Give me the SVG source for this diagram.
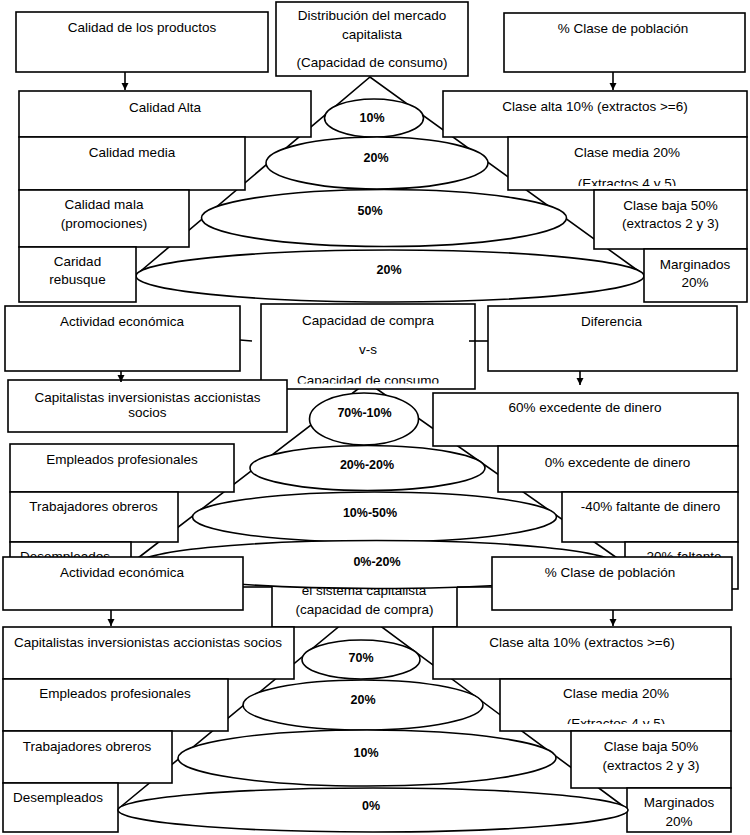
<svg xmlns="http://www.w3.org/2000/svg" width="750" height="835" viewBox="0 0 750 835">
<defs>
<style>
.b{fill:#fff;stroke:#000;stroke-width:1.6}
.e{fill:#fff;stroke:#000;stroke-width:1.6}
.l{fill:none;stroke:#000;stroke-width:1.6}
.t{font-family:"Liberation Sans",Arial,sans-serif;font-size:13.5px;fill:#000}
.c{text-anchor:middle}
.p{font-family:"Liberation Sans",Arial,sans-serif;font-size:12.5px;font-weight:bold;text-anchor:middle;fill:#000}
</style>
<marker id="ah" markerWidth="8" markerHeight="8" refX="7" refY="4" orient="auto" markerUnits="userSpaceOnUse"><path d="M0,0.5 L7,4 L0,7.5 Z" fill="#000"/></marker>
<clipPath id="k1"><rect x="508" y="137" width="239" height="49"/></clipPath>
<clipPath id="k2"><rect x="261" y="304" width="214" height="79.5"/></clipPath>
<clipPath id="k3"><rect x="500" y="679" width="231" height="45"/></clipPath>
</defs>

<g id="pyramid-1"><polyline class="l" points="136,275 370,77 644,275"/></g>

<g id="s1-ellipses">
<g id="e1-10"><ellipse class="e" cx="374" cy="118" rx="49.5" ry="19"/><text class="p" x="372" y="122">10%</text></g>
<g id="e1-20"><ellipse class="e" cx="377" cy="163" rx="111" ry="26"/><text class="p" x="376" y="162">20%</text></g>
<g id="e1-50"><ellipse class="e" cx="384" cy="218" rx="182.5" ry="28.5"/><text class="p" x="370" y="215">50%</text></g>
<g id="e1-20b"><ellipse class="e" cx="390" cy="276" rx="254" ry="26"/><text class="p" x="389" y="274">20%</text></g>
</g>

<g id="n-calidad-productos"><rect class="b" x="16" y="12" width="252" height="60"/><text class="t c" x="142" y="32">Calidad de los productos</text></g>
<g id="n-distribucion"><rect class="b" x="276" y="2" width="192" height="74"/><text class="t c" x="372" y="20">Distribución del mercado</text><text class="t c" x="372" y="39">capitalista</text><text class="t c" x="372" y="67">(Capacidad de consumo)</text></g>
<g id="n-clase-poblacion-1"><rect class="b" x="504" y="13" width="241" height="59"/><text class="t c" x="623" y="33">% Clase de población</text></g>
<g id="n-calidad-alta"><rect class="b" x="19" y="91" width="292" height="46"/><text class="t c" x="165" y="112">Calidad Alta</text></g>
<g id="n-clase-alta-1"><rect class="b" x="443" y="91" width="304" height="46"/><text class="t c" x="595" y="111">Clase alta 10% (extractos &gt;=6)</text></g>
<g id="n-calidad-media"><rect class="b" x="19" y="137" width="226" height="53"/><text class="t c" x="132" y="157">Calidad media</text></g>
<g id="n-clase-media-1"><rect class="b" x="508" y="137" width="239" height="53"/><text class="t c" x="627" y="157">Clase media 20%</text><text class="t c" x="627" y="187.5" clip-path="url(#k1)">(Extractos 4 y 5)</text></g>
<g id="n-calidad-mala"><rect class="b" x="19" y="190" width="170" height="57"/><text class="t c" x="104" y="209">Calidad mala</text><text class="t c" x="104" y="228">(promociones)</text></g>
<g id="n-clase-baja-1"><rect class="b" x="594" y="190" width="153" height="59"/><text class="t c" x="670.5" y="210">Clase baja 50%</text><text class="t c" x="670.5" y="228">(extractos 2 y 3)</text></g>
<g id="n-caridad"><rect class="b" x="19" y="247" width="117" height="55"/><text class="t c" x="77.5" y="266">Caridad</text><text class="t c" x="77.5" y="284">rebusque</text></g>
<g id="n-marginados-1"><rect class="b" x="644" y="249" width="103" height="53"/><text class="t c" x="695" y="269">Marginados</text><text class="t c" x="695" y="287">20%</text></g>

<g id="pyramid-2"><polyline class="l" points="138,558 367,382 617,558"/></g>
<g id="pyramid-3"><polyline class="l" points="118,809 359,610 627,809"/></g>

<g id="n-actividad-2"><rect class="b" x="5" y="306" width="235" height="65"/><text class="t c" x="122" y="326">Actividad económica</text></g>
<g id="n-capacidad"><rect class="b" x="261" y="304" width="214" height="85"/><text class="t c" x="368" y="324.5">Capacidad de compra</text><text class="t c" x="368" y="354">v-s</text><text class="t c" x="368" y="384.5" clip-path="url(#k2)">Capacidad de consumo</text></g>
<g id="n-diferencia"><rect class="b" x="488" y="306" width="249" height="65"/><text class="t c" x="611.5" y="326">Diferencia</text></g>
<g id="n-capitalistas-2"><rect class="b" x="8" y="380" width="279" height="52"/><text class="t c" x="147.5" y="402">Capitalistas inversionistas accionistas</text><text class="t c" x="147.5" y="417">socios</text></g>
<g id="n-excedente60"><rect class="b" x="433" y="393" width="305" height="53"/><text class="t c" x="585" y="412">60% excedente de dinero</text></g>
<g id="n-empleados-2"><rect class="b" x="10" y="444" width="224" height="48"/><text class="t c" x="122" y="464">Empleados profesionales</text></g>
<g id="n-excedente0"><rect class="b" x="498" y="446" width="240" height="46"/><text class="t c" x="617.5" y="467">0% excedente de dinero</text></g>
<g id="n-trabajadores-2"><rect class="b" x="10" y="492" width="168" height="50"/><text class="t c" x="93.5" y="511">Trabajadores obreros</text></g>
<g id="n-faltante40"><rect class="b" x="562" y="492" width="176" height="50"/><text class="t c" x="650.5" y="511">-40% faltante de dinero</text></g>
<g id="n-desempleados-2"><rect class="b" x="10" y="542" width="121" height="47"/><text class="t" x="20" y="561">Desempleados</text></g>
<g id="n-faltante20"><rect class="b" x="625" y="542" width="113" height="47"/><text class="t" x="642" y="561">-20% faltante</text></g>

<g id="n-sistema"><rect class="b" x="272" y="560" width="185" height="67"/><text class="t c" x="364" y="595">el sistema capitalista</text><text class="t c" x="364.5" y="614">(capacidad de compra)</text></g>

<g id="s2-ellipses">
<g id="e2-70"><ellipse class="e" cx="364" cy="419" rx="54.5" ry="26"/><text class="p" x="364.5" y="417">70%-10%</text></g>
<g id="e2-20"><ellipse class="e" cx="367.5" cy="468" rx="117.5" ry="22.5"/><text class="p" x="367" y="469">20%-20%</text></g>
<g id="e2-10"><ellipse class="e" cx="374.5" cy="517" rx="182" ry="25"/><text class="p" x="370" y="517">10%-50%</text></g>
<g id="e2-0"><ellipse class="e" cx="376.5" cy="564.5" rx="239" ry="24"/><text class="p" x="377" y="566">0%-20%</text></g>
</g>

<g id="n-actividad-3"><rect class="b" x="3" y="557" width="240" height="53"/><text class="t c" x="122" y="577">Actividad económica</text></g>
<g id="n-clase-poblacion-3"><rect class="b" x="492" y="557" width="240" height="53"/><text class="t c" x="610" y="577">% Clase de población</text></g>
<g id="n-capitalistas-3"><rect class="b" x="3" y="627" width="291" height="52"/><text class="t c" x="148" y="647">Capitalistas inversionistas accionistas socios</text></g>
<g id="n-clase-alta-3"><rect class="b" x="433" y="627" width="298" height="52"/><text class="t c" x="582" y="647">Clase alta 10% (extractos &gt;=6)</text></g>
<g id="n-empleados-3"><rect class="b" x="3" y="679" width="225" height="52"/><text class="t c" x="115" y="698">Empleados profesionales</text></g>
<g id="n-clase-media-3"><rect class="b" x="500" y="679" width="231" height="52"/><text class="t c" x="616" y="698">Clase media 20%</text><text class="t c" x="616" y="727.5" clip-path="url(#k3)">(Extractos 4 y 5)</text></g>
<g id="n-trabajadores-3"><rect class="b" x="3" y="731" width="169" height="52"/><text class="t c" x="87" y="751">Trabajadores obreros</text></g>
<g id="n-clase-baja-3"><rect class="b" x="571" y="731" width="160" height="57"/><text class="t c" x="651" y="751">Clase baja 50%</text><text class="t c" x="651" y="770">(extractos 2 y 3)</text></g>
<g id="n-desempleados-3"><rect class="b" x="3" y="783" width="115" height="49"/><text class="t c" x="58" y="802">Desempleados</text></g>
<g id="n-marginados-3"><rect class="b" x="627" y="788" width="104" height="44"/><text class="t c" x="679" y="807">Marginados</text><text class="t c" x="679" y="826">20%</text></g>

<g id="s3-ellipses">
<g id="e3-70"><ellipse class="e" cx="361" cy="659.5" rx="59" ry="19.5"/><text class="p" x="361" y="662">70%</text></g>
<g id="e3-20"><ellipse class="e" cx="363" cy="705" rx="120" ry="25"/><text class="p" x="363" y="704">20%</text></g>
<g id="e3-10"><ellipse class="e" cx="367" cy="758" rx="189" ry="28"/><text class="p" x="366" y="757">10%</text></g>
<g id="e3-0"><ellipse class="e" cx="373" cy="810" rx="255" ry="22"/><text class="p" x="371" y="810">0%</text></g>
</g>

<g id="connectors">
<line class="l" x1="125" y1="72" x2="125" y2="90" marker-end="url(#ah)"/>
<line class="l" x1="613" y1="72" x2="613" y2="90" marker-end="url(#ah)"/>
<line class="l" x1="240" y1="340" x2="252" y2="341"/>
<line class="l" x1="469" y1="341" x2="488" y2="341"/>
<line class="l" x1="121" y1="371" x2="121" y2="382" marker-end="url(#ah)"/>
<line class="l" x1="580" y1="371" x2="580" y2="385" marker-end="url(#ah)"/>
<line class="l" x1="243" y1="587" x2="272" y2="587"/>
<line class="l" x1="457" y1="587" x2="492" y2="587"/>
<line class="l" x1="111" y1="610" x2="111" y2="626" marker-end="url(#ah)"/>
<line class="l" x1="613" y1="610" x2="613" y2="626" marker-end="url(#ah)"/>
</g>
</svg>
